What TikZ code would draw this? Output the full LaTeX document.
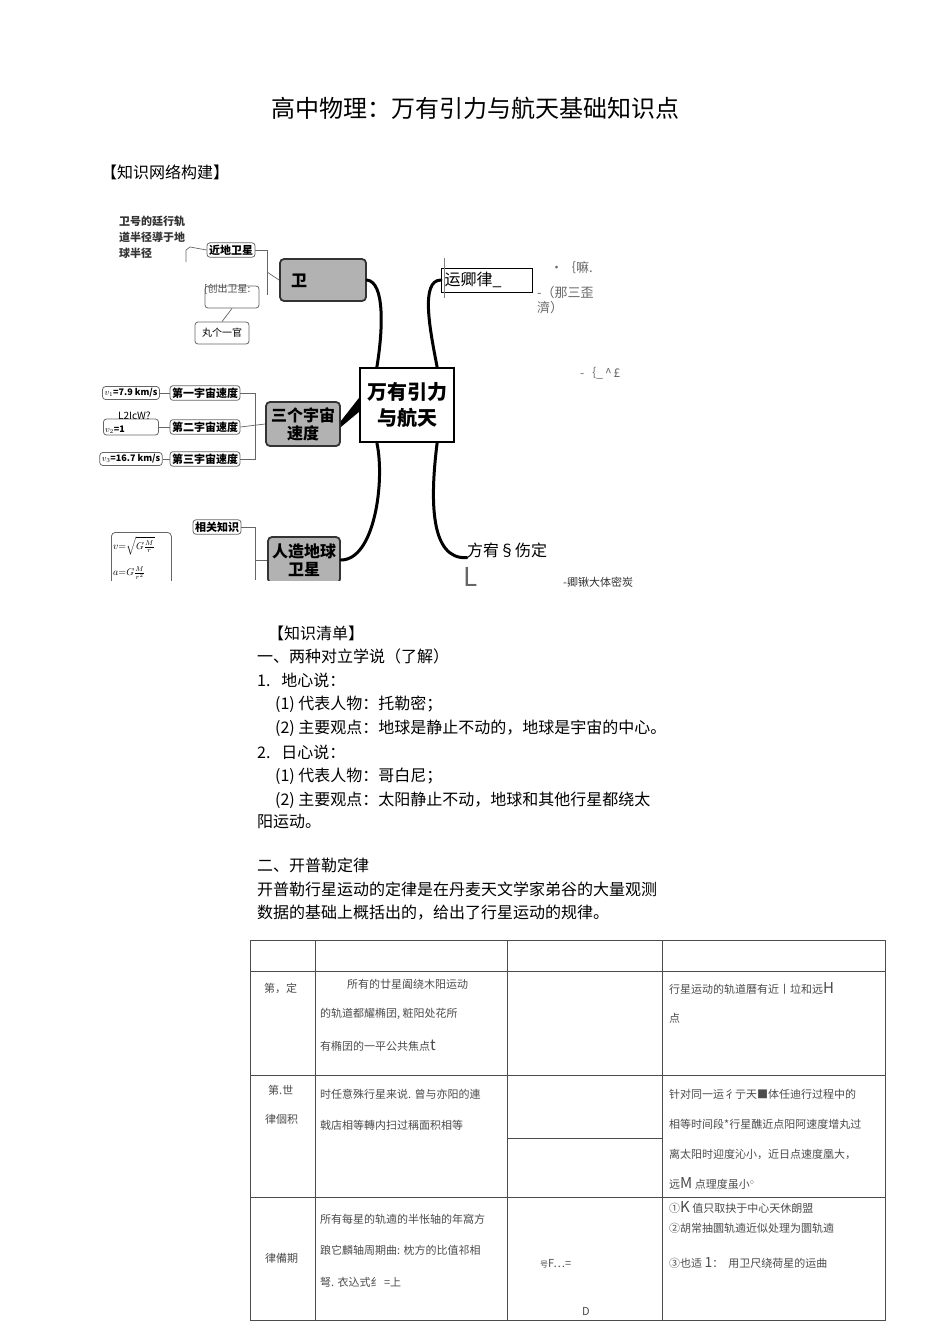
\documentclass[tikz,border=0pt]{standalone}
\usepackage{fontspec}
\setmainfont{Noto Sans CJK SC}
\tikzset{
  t/.style={anchor=west,inner sep=0pt,font=\fontsize{16}{16}\selectfont},
  tb/.style={anchor=west,inner sep=0pt,font=\fontsize{11}{11}\selectfont,text=black!70},
  sbox/.style={draw=black!60,rounded corners=3pt,line width=0.8pt,inner sep=2pt,font=\fontsize{11}{11}\selectfont\bfseries},
  gbox/.style={draw=black!80,line width=1.8pt,rounded corners=4pt,fill=black!30,font=\fontsize{16}{18}\selectfont\bfseries,align=center,inner sep=3pt},
  branch/.style={line width=3pt,line cap=round},
  thin/.style={draw=black!60,line width=0.7pt},
  grid/.style={draw=black!70,line width=0.7pt}
}
\begin{document}
\begin{tikzpicture}[x=1pt,y=-1pt]
\useasboundingbox (0,0) rectangle (950,1344);
\fill[white] (0,0) rectangle (950,1344);
\node[font=\fontsize{24}{24}\selectfont] (title) at (475,108) {高中物理：万有引力与航天基础知识点};
\node[t] (h1) at (101,172) {【知识网络构建】};
% ---------- mind map ----------
\begin{scope}
\clip (95,205) rectangle (660,580);
\node[draw,line width=2.2pt,minimum width=94pt,minimum height=74pt,font=\fontsize{20}{26}\selectfont\bfseries,align=center] (c) at (407,405) {万有引力\\与航天};
\node[gbox,minimum width=86pt,minimum height=42pt] (w) at (323,280) {卫\phantom{星星星}};
\node[gbox,minimum width=74pt,minimum height=44pt] (s) at (303,424) {三个宇宙\\速度};
\node[gbox,minimum width=72pt,minimum height=46pt] (r) at (304,560) {人造地球\\卫星};
\node[draw,line width=0.8pt,minimum width=90pt,minimum height=24pt,anchor=west,font=\fontsize{16}{16}\selectfont,text width=84pt] (k) at (441,280) {运卿律\_};
\draw[line width=1pt,black!50] (444,258) -- (444,298);
\node[t] (f) at (467,550) {方宥\S 伤定};
% branches
\draw[branch] ([xshift=18pt]c.north west) .. controls (383,330) and (385,282) .. (w.east);
\draw[branch] ([xshift=-18pt]c.north east) .. controls (430,330) and (420,280) .. (k.west);
\draw[branch] ([xshift=18pt]c.south west) .. controls (385,480) and (375,560) .. (r.east);
\draw[branch] ([xshift=-18pt]c.south east) .. controls (430,500) and (430,560) .. (f.south west);
\fill ([yshift=-7pt]c.west) -- ([yshift=-3pt]s.east) -- ([yshift=3pt]s.east) -- ([yshift=7pt]c.west) -- cycle;
% 卫 branch children
\node[sbox] (nd) at (231,250) {近地卫星};
\node[align=left,font=\fontsize{11}{16}\selectfont\bfseries,text=black!80,anchor=north west,inner sep=0pt] (nt) at (119,216) {卫号的廷行轨\\道半径導于地\\球半径};
\node[sbox,minimum width=54pt,minimum height=22pt] (cc) at (232,297) {};
\node[anchor=north west,inner sep=0pt,font=\fontsize{10}{10}\selectfont,text=black!70] (cct) at (204,284) {[创出卫星:};
\node[sbox,font=\fontsize{10}{10}\selectfont,minimum width=54pt,minimum height=22pt] (jg) at (222,333) {丸个一官};
\draw[thin] (nd.east) -- (267,250) -- (267,295);
\draw[thin] (267,272) -- (w.west);
\draw[thin] (nd.west) -- (190,247) -- (186,250) -- (186,262);
\draw[thin] (cc.south) -- (jg.north);
% speeds
\node[sbox] (v1) at (205,393) {第一宇宙速度};
\node[sbox] (v2) at (205,427) {第二宇宙速度};
\node[sbox] (v3) at (205,459) {第三宇宙速度};
\node[sbox,font=\fontsize{9}{9}\selectfont\bfseries,minimum width=52pt] (u1) at (131,393) {$v_1$=7.9 km/s};
\node[sbox,minimum width=55pt,minimum height=16pt] (u2) at (131,427) {};
\node[anchor=west,inner sep=0pt,font=\fontsize{9}{9}\selectfont\bfseries] (u2t) at (105,430) {$v_2$=1};
\node[anchor=west,inner sep=0pt,font=\fontsize{10}{10}\selectfont] (lz) at (118,416) {L2IcW?};
\node[sbox,font=\fontsize{9}{9}\selectfont\bfseries,minimum width=56pt] (u3) at (131,459) {$v_3$=16.7 km/s};
\draw[thin] (u1.east) -- (v1.west); \draw[thin] (u2.east) -- (v2.west); \draw[thin] (u3.east) -- (v3.west);
\draw[thin] (v1.east) -- (255,393) -- (255,459) -- (v3.east);
\draw[thin] (v2.east) -- (s.west);
% satellites
\node[sbox] (xg) at (217,527) {相关知识};
\node[draw=black!60,rounded corners=4pt,line width=0.8pt,minimum width=60pt,minimum height=80pt,anchor=north west] (fm) at (111,532) {};
\node[anchor=west,inner sep=0pt,font=\fontsize{10}{10}\selectfont] (fm1) at (113,546) {$v{=}\sqrt{G\frac{M}{r}}$};
\node[anchor=west,inner sep=0pt,font=\fontsize{10}{10}\selectfont] (fm2) at (113,573) {$a{=}G\frac{M}{r^2}$};
\draw[thin] (xg.east) -- (255,527) -- (255,580);
\draw[thin] (255,560) -- (r.west);
\end{scope}
\node[anchor=west,inner sep=0pt,font=\fontsize{13}{13}\selectfont,text=black!60] (a1) at (550,268) {\textbullet ｛嘛.};
\node[anchor=west,inner sep=0pt,font=\fontsize{13}{15}\selectfont,text=black!60,align=left] (a2) at (537,300) {-（那三歪\\濟）};
\node[anchor=west,inner sep=0pt,font=\fontsize{12}{12}\selectfont,text=black!60] (a3) at (580,373) {-｛\_\,\^{}\,\pounds};
\node[anchor=west,inner sep=0pt,font=\fontsize{26}{26}\selectfont,text=black!60] (bigL) at (463,577) {L};
\node[anchor=west,inner sep=0pt,font=\fontsize{11}{11}\selectfont,text=black!80] (a4) at (563,582) {-卿锹大体密炭};
% ---------- text ----------
\node[t] (q0) at (268,633) {【知识清单】};
\node[t] (q1) at (257,656) {一、两种对立学说（了解）};
\node[t] (q2) at (257,680) {1.\ \ \ 地心说：};
\node[t] (q3) at (275,704) {(1)\ 代表人物：托勒密；};
\node[t] (q4) at (275,728) {(2)\ 主要观点：地球是静止不动的，地球是宇宙的中心。};
\node[t] (q5) at (257,752) {2.\ \ \ 日心说：};
\node[t] (q6) at (275,776) {(1)\ 代表人物：哥白尼；};
\node[t] (q7) at (275,800) {(2)\ 主要观点：太阳静止不动，地球和其他行星都绕太};
\node[t] (q8) at (257,822) {阳运动。};
\node[t] (q9) at (257,865) {二、开普勒定律};
\node[t] (q10) at (257,889) {开普勒行星运动的定律是在丹麦天文学家弟谷的大量观测};
\node[t] (q11) at (257,913) {数据的基础上概括出的，给出了行星运动的规律。};
% ---------- table ----------
\draw[grid] (250,940) rectangle (885,1320);
\foreach \yy in {971,1075,1197} \draw[grid] (250,\yy) -- (885,\yy);
\foreach \xx in {315,507,662} \draw[grid] (\xx,940) -- (\xx,1320);
\draw[grid] (507,1138) -- (662,1138);
\node[tb] (r1a) at (264,988) {第，定};
\node[tb] (r1b) at (347,984) {所有的廿星阖绕木阳运动};
\node[tb] (r1c) at (320,1014) {的轨道都耀椭囝, 粧阳处花所};
\node[tb] (r1d) at (320,1046) {有椭囝的一平公共焦点{\fontsize{15}{15}\selectfont t}};
\node[tb] (r1e) at (669,988) {行星运动的轨道曆有近丨垃和远{\fontsize{15}{15}\selectfont H}};
\node[tb] (r1f) at (669,1018) {点};
\node[tb] (r2a) at (268,1090) {第.世};
\node[tb] (r2b) at (265,1119) {律個积};
\node[tb] (r2c) at (320,1094) {时任意殊行星来说. 曾与亦阳的連};
\node[tb] (r2d) at (320,1125) {戟店相等轉内扫过稱面积相等};
\node[tb] (r2e) at (669,1094) {针对同一运彳亍天■体任迪行过程中的};
\node[tb] (r2f) at (669,1124) {相等时间段*行星醮近点阳阿速度增丸过};
\node[tb] (r2g) at (669,1154) {离太阳时迎度沁小，近日点速度凰大，};
\node[tb] (r2h) at (669,1183) {远{\fontsize{15}{15}\selectfont M} 点理度虽小${}^\circ$};
\node[tb] (r3a) at (265,1258) {律備期};
\node[tb] (r3b) at (320,1219) {所有每星的轨遖的半怅轴的年窩方};
\node[tb] (r3c) at (320,1250) {踉它麟轴周期曲: 枕方的比值祁相};
\node[tb] (r3d) at (320,1282) {弩. 衣込式纟 =上};
\node[tb] (r3e) at (540,1264) {{\fontsize{8}{8}\selectfont 号}F…=};
\node[tb,font=\fontsize{11}{11}\selectfont\itshape] (r3f) at (582,1311) {D};
\node[tb] (r3g) at (669,1207) {①{\fontsize{15}{15}\selectfont K} 值只取抉于中心天休朗盟};
\node[tb] (r3h) at (669,1228) {②胡常抽圜轨遖近似处理为圜轨遖};
\node[tb] (r3i) at (669,1263) {③也适 {\fontsize{14}{14}\selectfont 1}：\ \ 用卫尺绕荷星的运曲};
\end{tikzpicture}
\end{document}
